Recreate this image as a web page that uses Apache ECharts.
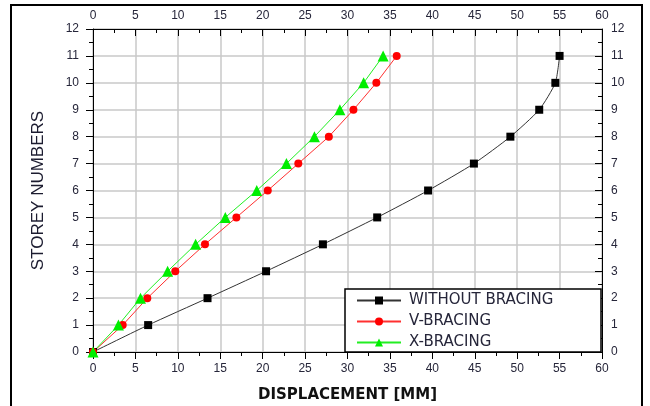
<!DOCTYPE html>
<html>
<head>
    <meta charset="utf-8" />
    <title>Storey displacement</title>
    <script src="https://cdn.jsdelivr.net/npm/echarts@6/dist/echarts.min.js"></script>
    <style>
        html, body { margin: 0; padding: 0; background: #fff; }
        #chart { width: 650px; height: 406px; }
    </style>
</head>
<body>
    <div id="chart"></div>

    <script type="text/javascript">
        // storey numbers (y) and displacement in mm (x) for each case
        var storeys = [0, 1, 2, 3, 4, 5, 6, 7, 8, 9, 10, 11];
        var withoutBracing = [0, 6.5, 13.5, 20.4, 27.1, 33.5, 39.5, 44.9, 49.2, 52.6, 54.5, 55.0];
        var vBracing = [0, 3.5, 6.4, 9.7, 13.2, 16.9, 20.6, 24.2, 27.8, 30.7, 33.4, 35.8];
        var xBracing = [0, 3.0, 5.6, 8.8, 12.1, 15.6, 19.3, 22.8, 26.1, 29.1, 31.9, 34.2];
        var seriesNames = ['WITHOUT BRACING', 'V-BRACING', 'X-BRACING'];

        function pairs(xs) {
            var out = [];
            for (var i = 0; i < xs.length; i++) {
                out.push([xs[i], storeys[i]]);
            }
            return out;
        }

        var labelColor = '#26263a';
        var labelFont = 'Liberation Sans';

        var myChart = echarts.init(document.getElementById('chart'));

        // x axis settings shared by bottom and top
        function xAxisOpt(pos, inside, showSplit) {
            return {
                type: 'value',
                position: pos,
                min: 0,
                max: 60,
                interval: 5,
                axisLine: { show: true, onZero: false, lineStyle: { color: '#000', width: 1 } },
                axisTick: { show: true, inside: inside, length: 7, lineStyle: { color: '#000' } },
                minorTick: { show: true, splitNumber: 2, length: 4, lineStyle: { color: '#000' } },
                splitLine: { show: showSplit, lineStyle: { color: '#c8c8c8', width: 1.5 } },
                axisLabel: { color: labelColor, fontFamily: labelFont, fontSize: 12, margin: pos === 'top' ? 7 : 11 }
            };
        }

        function yAxisOpt(pos, inside, showSplit) {
            return {
                type: 'value',
                position: pos,
                min: 0,
                max: 12,
                interval: 1,
                axisLine: { show: true, onZero: false, lineStyle: { color: '#000', width: 1 } },
                axisTick: { show: true, inside: inside, length: 7, lineStyle: { color: '#000' } },
                minorTick: { show: true, splitNumber: 2, length: 4, lineStyle: { color: '#000' } },
                splitLine: { show: showSplit, lineStyle: { color: '#c8c8c8', width: 1.5 } },
                axisLabel: { color: labelColor, fontFamily: labelFont, fontSize: 12, margin: pos === 'left' ? 14 : 9 }
            };
        }

        var xBottom = xAxisOpt('bottom', false, true);
        xBottom.name = 'DISPLACEMENT [MM]';
        xBottom.nameLocation = 'middle';
        xBottom.nameGap = 36;
        xBottom.nameTextStyle = { color: '#111', fontFamily: 'DejaVu Sans', fontWeight: 'bold', fontSize: 15 };

        var yLeft = yAxisOpt('left', false, true);
        yLeft.name = 'STOREY NUMBERS';
        yLeft.nameLocation = 'middle';
        yLeft.nameGap = 46;
        yLeft.nameTextStyle = { color: '#1c1c30', fontFamily: labelFont, fontSize: 17 };

        myChart.setOption({
            animation: false,
            backgroundColor: '#fff',
            grid: {
                left: 93,
                right: 48,
                top: 29,
                bottom: 54,
                containLabel: false,
                outerBoundsMode: 'none'
            },
            xAxis: [xBottom, xAxisOpt('top', true, false)],
            yAxis: [yLeft, yAxisOpt('right', true, false)],
            graphic: [{
                // outer frame of the figure
                type: 'rect',
                z: 1,
                shape: { x: 11, y: 5, width: 631, height: 410 },
                style: { fill: 'none', stroke: '#000', lineWidth: 2 }
            }, {
                // legend box
                type: 'rect',
                z: 3,
                shape: { x: 345, y: 289, width: 256, height: 63 },
                style: { fill: '#fff', stroke: '#000', lineWidth: 1.5 }
            }],
            legend: {
                orient: 'vertical',
                left: 356,
                top: 293,
                z: 5,
                itemWidth: 44,
                itemHeight: 10,
                itemGap: 6,
                padding: 0,
                data: seriesNames,
                textStyle: { color: labelColor, fontFamily: 'DejaVu Sans', fontSize: 15, padding: [0, 0, 0, 3] }
            },
            series: [{
                name: seriesNames[0],
                type: 'line',
                xAxisIndex: 0,
                yAxisIndex: 0,
                data: pairs(withoutBracing),
                symbol: 'rect',
                symbolSize: 8,
                smooth: 0.2,
                lineStyle: { color: '#333', width: 1 },
                itemStyle: { color: '#000' }
            }, {
                name: seriesNames[1],
                type: 'line',
                xAxisIndex: 0,
                yAxisIndex: 0,
                data: pairs(vBracing),
                symbol: 'circle',
                symbolSize: 8,
                lineStyle: { color: '#ff3030', width: 1 },
                itemStyle: { color: '#ff0000' }
            }, {
                name: seriesNames[2],
                type: 'line',
                xAxisIndex: 0,
                yAxisIndex: 0,
                data: pairs(xBracing),
                symbol: 'triangle',
                symbolSize: 11,
                lineStyle: { color: '#22ee22', width: 1 },
                itemStyle: { color: '#00ee00' }
            }]
        });
    </script>
</body>
</html>
